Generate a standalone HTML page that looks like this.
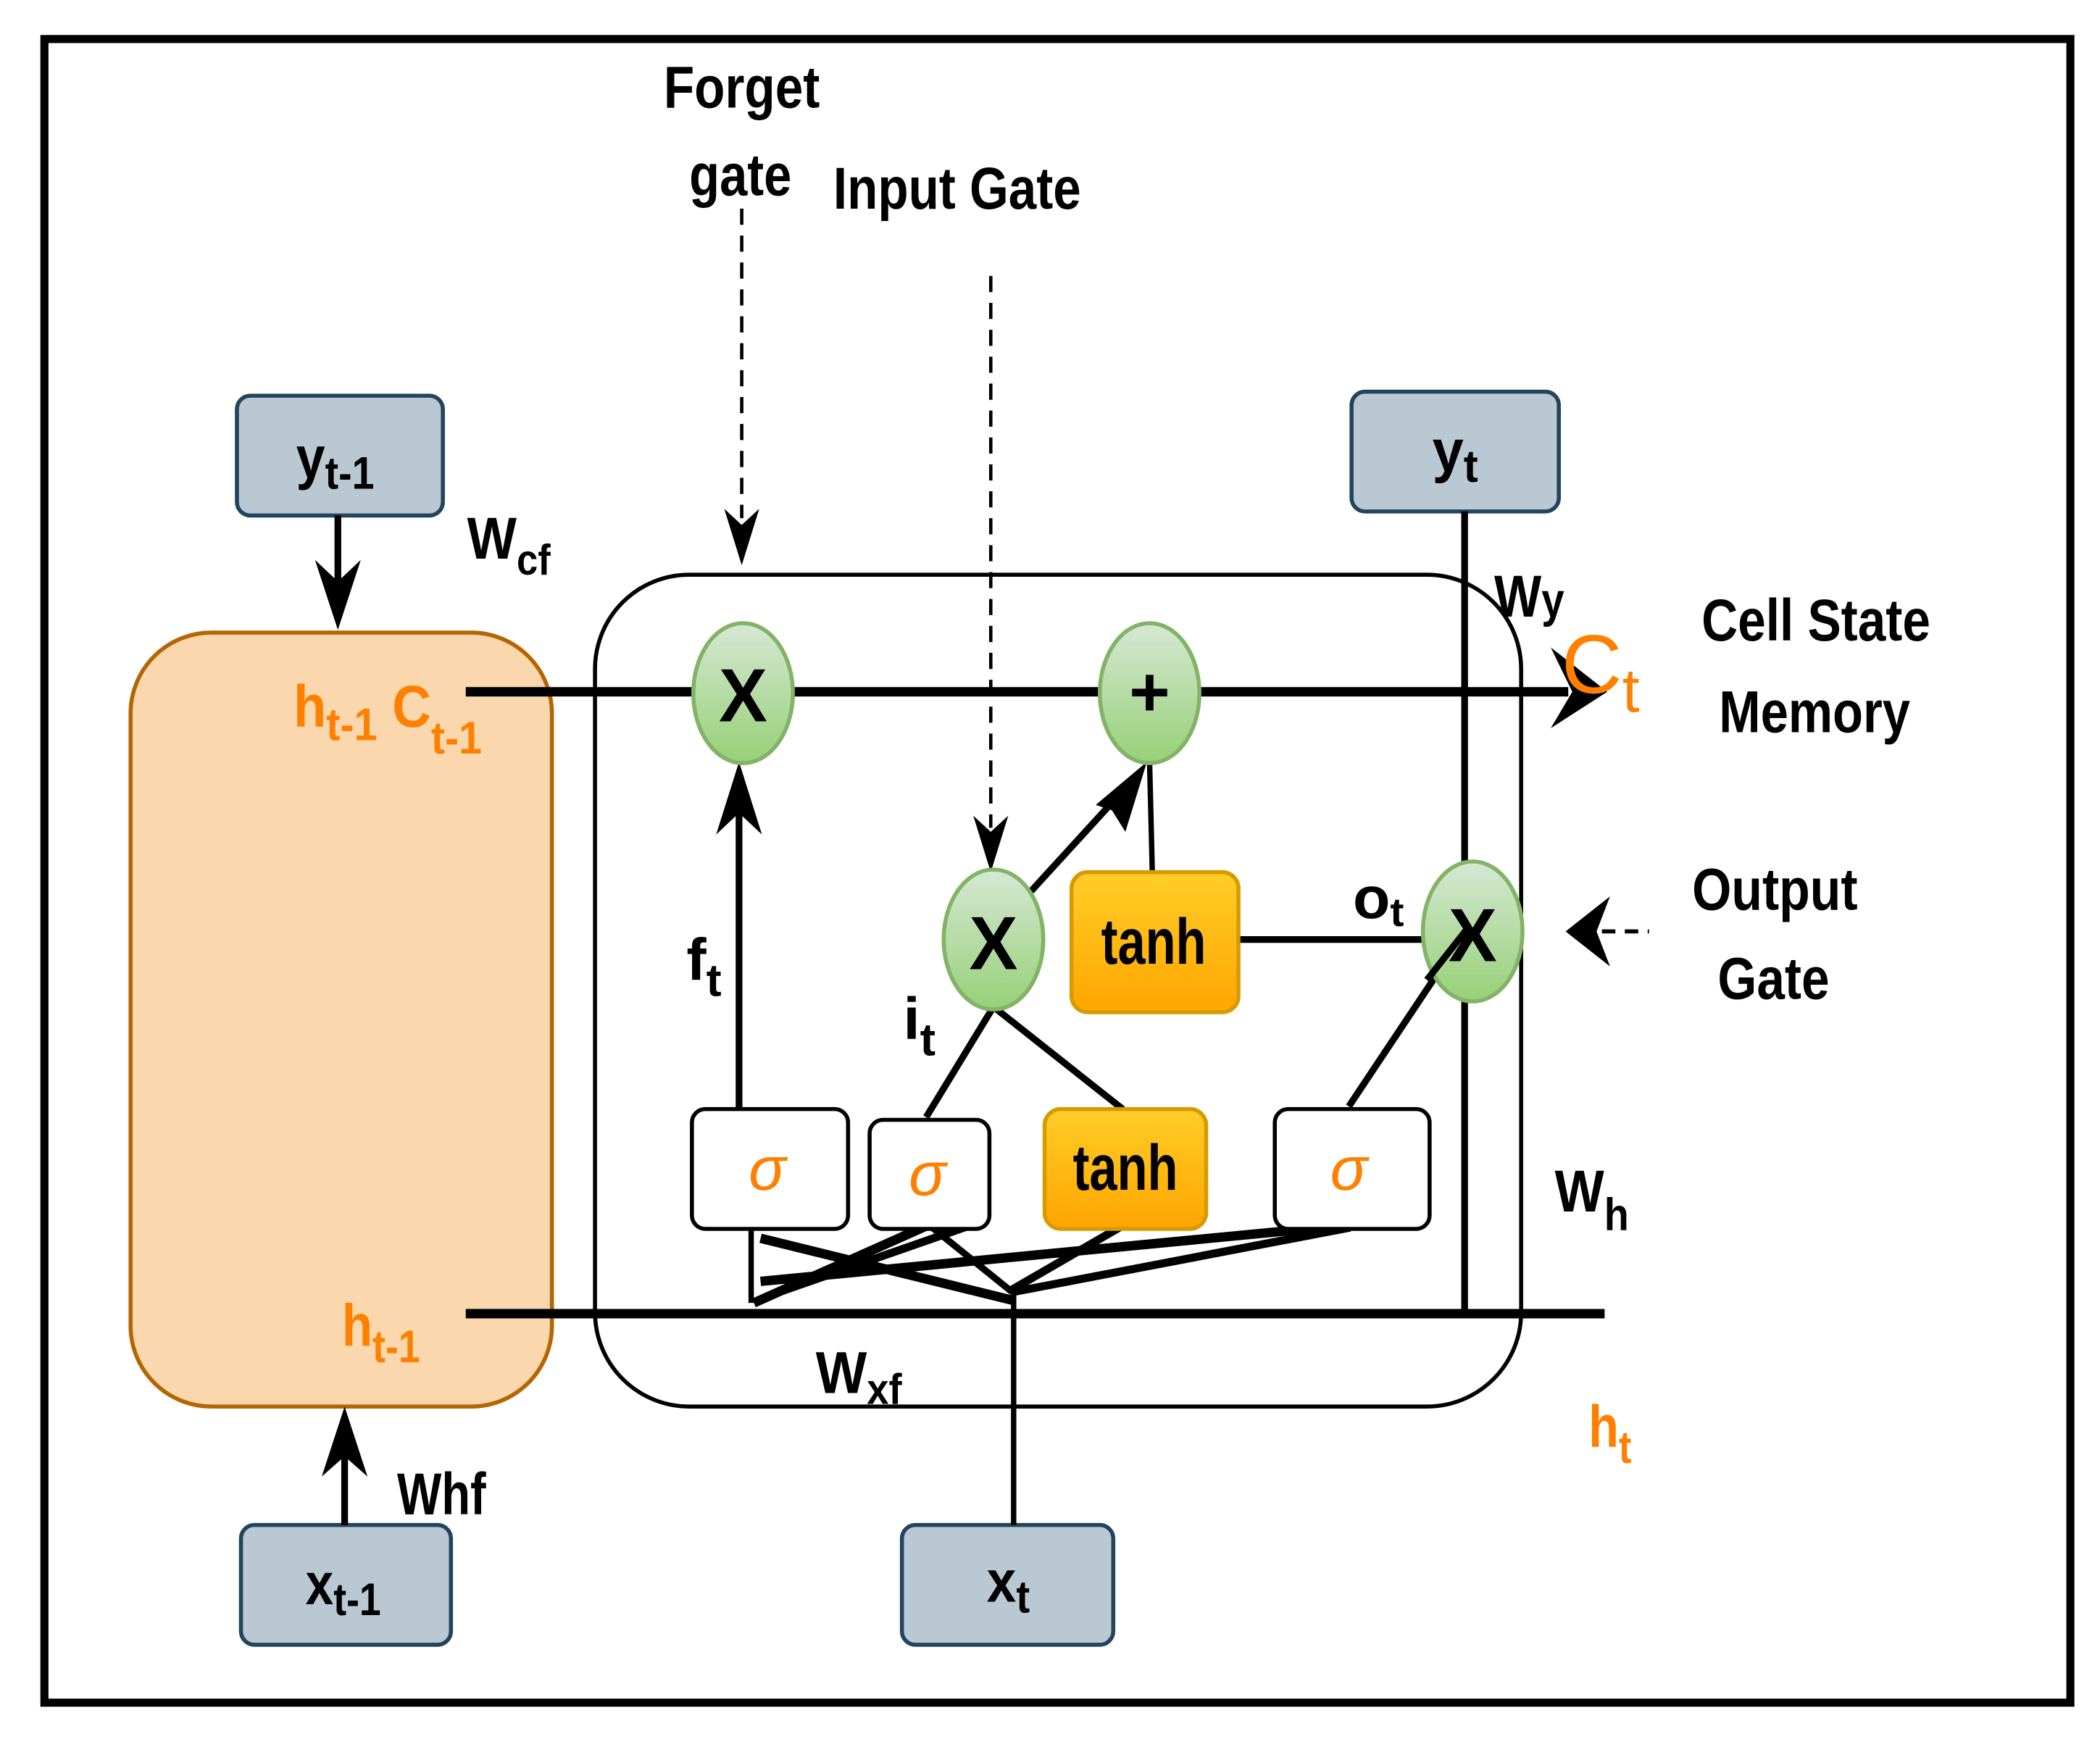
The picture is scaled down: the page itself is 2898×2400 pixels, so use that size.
<!DOCTYPE html>
<html><head><meta charset="utf-8"><style>
html,body{margin:0;padding:0;background:#fff}
svg{display:block}
text{font-family:"Liberation Sans Narrow","Liberation Sans",sans-serif;font-weight:bold}
</style></head><body>
<svg width="2898" height="2400" viewBox="0 0 1560 1292" preserveAspectRatio="none" xmlns="http://www.w3.org/2000/svg">
<defs>
<linearGradient id="g" x1="0" y1="0" x2="0" y2="1"><stop offset="0" stop-color="#d5e8d4"/><stop offset="1" stop-color="#97d077"/></linearGradient>
<linearGradient id="o" x1="0" y1="0" x2="0" y2="1"><stop offset="0" stop-color="#ffcd28"/><stop offset="1" stop-color="#ffa500"/></linearGradient>
</defs>
<rect x="0" y="0" width="1560" height="1292" fill="#fff"/>
<rect x="33" y="29" width="1505" height="1236" fill="none" stroke="#000" stroke-width="6"/>

<rect x="97" y="470" width="313" height="575" rx="60" fill="#fad7ac" stroke="#b46504" stroke-width="3"/>
<rect x="442" y="427" width="688" height="618" rx="70" fill="none" stroke="#000" stroke-width="3"/>

<g fill="#bac8d3" stroke="#23445d" stroke-width="3">
<rect x="176" y="294" width="153" height="89" rx="10"/>
<rect x="179" y="1133" width="156" height="89" rx="10"/>
<rect x="670" y="1133" width="157" height="89" rx="10"/>
<rect x="1004" y="291" width="154" height="89" rx="10"/>
</g>

<g stroke="#000" fill="none">
<line x1="346" y1="514" x2="1165" y2="514" stroke-width="7"/>
<line x1="346" y1="976" x2="1192" y2="976" stroke-width="7"/>
<line x1="1088" y1="380" x2="1088" y2="976" stroke-width="5"/>
<line x1="251" y1="383" x2="251" y2="440" stroke-width="5"/>
<line x1="256" y1="1133" x2="256" y2="1075" stroke-width="5"/>
<line x1="549" y1="824" x2="549" y2="600" stroke-width="5"/>
<line x1="688" y1="830" x2="738" y2="748" stroke-width="5"/>
<line x1="738" y1="748" x2="834" y2="824" stroke-width="5"/>
<line x1="766" y1="662" x2="830" y2="592" stroke-width="5"/>
<line x1="856" y1="648" x2="854" y2="567" stroke-width="4"/>
<line x1="910" y1="698" x2="1060" y2="698" stroke-width="5"/>
<line x1="1002" y1="822" x2="1090" y2="690" stroke-width="5"/>
<line x1="753" y1="1133" x2="753" y2="958" stroke-width="4"/>
<line x1="558" y1="913" x2="558" y2="968" stroke-width="4"/>
<line x1="565" y1="920" x2="752" y2="966" stroke-width="7"/>
<line x1="565" y1="952" x2="1003" y2="910" stroke-width="7"/>
<line x1="560" y1="968" x2="690" y2="910" stroke-width="7"/>
<line x1="570" y1="963" x2="722" y2="910" stroke-width="6"/>
<line x1="690" y1="910" x2="752" y2="960" stroke-width="5"/>
<line x1="752" y1="958" x2="835" y2="910" stroke-width="6"/>
<line x1="752" y1="960" x2="1003" y2="912" stroke-width="6"/>
<line x1="551" y1="155" x2="551" y2="385" stroke-width="2.5" stroke-dasharray="12,8"/>
<line x1="736" y1="205" x2="736" y2="615" stroke-width="2.5" stroke-dasharray="12,8"/>
<line x1="1190" y1="692" x2="1225" y2="692" stroke-width="3" stroke-dasharray="10,7"/>
</g>
<g fill="#000">
<polygon points="251,468 234,416 251,432 268,416"/>
<polygon points="256,1045 239,1097 256,1082 273,1097"/>
<polygon points="549,566 532,620 549,604 566,620"/>
<polygon points="852,566 814,598 826,602 836,618"/>
<polygon points="551,420 538,378 551,390 564,378"/>
<polygon points="736,648 723,606 736,618 749,606"/>
<polygon points="1163,692 1196,666 1186,692 1196,718"/>
<polygon points="1194,514 1152,481 1168,514 1152,541"/>
</g>

<g fill="url(#g)" stroke="#82b366" stroke-width="3">
<ellipse cx="552" cy="515" rx="37" ry="52"/>
<ellipse cx="854" cy="515" rx="37" ry="52"/>
<ellipse cx="738" cy="698" rx="37" ry="52"/>
<ellipse cx="1094" cy="692" rx="37" ry="52"/>
</g>
<line x1="1090" y1="690" x2="1060" y2="728" stroke="#000" stroke-width="5"/>

<g fill="url(#o)" stroke="#d79b00" stroke-width="3">
<rect x="796" y="648" width="124" height="104" rx="12"/>
<rect x="776" y="824" width="120" height="89" rx="12"/>
</g>
<g fill="#fff" stroke="#000" stroke-width="3">
<rect x="514" y="824" width="116" height="89" rx="10"/>
<rect x="646" y="832" width="89" height="81" rx="10"/>
<rect x="947" y="824" width="115" height="89" rx="10"/>
</g>

<g font-size="56" text-anchor="middle" fill="#000">
<text x="552" y="536" textLength="36" lengthAdjust="spacingAndGlyphs">X</text>
<text x="738" y="720" textLength="36" lengthAdjust="spacingAndGlyphs">X</text>
<text x="1094" y="714" textLength="36" lengthAdjust="spacingAndGlyphs">X</text>
<text x="854" y="532" font-size="52">+</text>
<text x="857" y="716" font-size="48" textLength="78" lengthAdjust="spacingAndGlyphs">tanh</text>
<text x="836" y="884" font-size="48" textLength="78" lengthAdjust="spacingAndGlyphs">tanh</text>
</g>
<g font-size="46" fill="#ff8000" text-anchor="middle">
<text x="570" y="884" style="font-weight:normal;font-style:italic;font-family:'Liberation Sans',sans-serif">σ</text>
<text x="689" y="888" style="font-weight:normal;font-style:italic;font-family:'Liberation Sans',sans-serif">σ</text>
<text x="1002" y="884" style="font-weight:normal;font-style:italic;font-family:'Liberation Sans',sans-serif">σ</text>
</g>

<g font-size="44" fill="#000">
<text x="493" y="80" textLength="116" lengthAdjust="spacingAndGlyphs">Forget</text>
<text x="512" y="145" textLength="76" lengthAdjust="spacingAndGlyphs">gate</text>
<text x="619" y="155" textLength="184" lengthAdjust="spacingAndGlyphs">Input Gate</text>
<text x="1264" y="476" textLength="170" lengthAdjust="spacingAndGlyphs">Cell State</text>
<text x="1277" y="544" textLength="142" lengthAdjust="spacingAndGlyphs">Memory</text>
<text x="1257" y="676" textLength="123" lengthAdjust="spacingAndGlyphs">Output</text>
<text x="1276" y="742" textLength="83" lengthAdjust="spacingAndGlyphs">Gate</text>

<text x="220" y="355" textLength="58" lengthAdjust="spacingAndGlyphs">y<tspan font-size="34" dy="8">t-1</tspan></text>
<text x="227" y="1192" textLength="56" lengthAdjust="spacingAndGlyphs">x<tspan font-size="34" dy="8">t-1</tspan></text>
<text x="733" y="1190" textLength="32" lengthAdjust="spacingAndGlyphs">x<tspan font-size="34" dy="8">t</tspan></text>
<text x="1064" y="350" textLength="34" lengthAdjust="spacingAndGlyphs">y<tspan font-size="34" dy="8">t</tspan></text>

<text x="347" y="415" textLength="62" lengthAdjust="spacingAndGlyphs">W<tspan font-size="32" dy="12">cf</tspan></text>
<text x="295" y="1125" textLength="66" lengthAdjust="spacingAndGlyphs">Whf</text>
<text x="1110" y="458" textLength="52" lengthAdjust="spacingAndGlyphs">W<tspan font-size="36" dy="0">y</tspan></text>
<text x="1155" y="900" textLength="55" lengthAdjust="spacingAndGlyphs">W<tspan font-size="34" dy="14">h</tspan></text>
<text x="606" y="1035" textLength="64" lengthAdjust="spacingAndGlyphs">W<tspan font-size="32" dy="8">xf</tspan></text>
<text x="510" y="728" textLength="26" lengthAdjust="spacingAndGlyphs">f<tspan font-size="34" dy="12">t</tspan></text>
<text x="671" y="772" textLength="24" lengthAdjust="spacingAndGlyphs">i<tspan font-size="34" dy="12">t</tspan></text>
<text x="1005" y="682" textLength="38" lengthAdjust="spacingAndGlyphs">o<tspan font-size="30" dy="6">t</tspan></text>
</g>
<g font-size="44" fill="#ff8000">
<text x="218" y="540" textLength="140" lengthAdjust="spacingAndGlyphs">h<tspan font-size="34" dy="10">t-1</tspan><tspan dy="-10"> C</tspan><tspan font-size="34" dy="20">t-1</tspan></text>
<text x="254" y="1000" textLength="58" lengthAdjust="spacingAndGlyphs">h<tspan font-size="34" dy="12">t-1</tspan></text>
<text x="1180" y="1075" textLength="32" lengthAdjust="spacingAndGlyphs">h<tspan font-size="34" dy="12">t</tspan></text>
<text x="1160" y="515" font-size="62" style="font-weight:normal" textLength="58" lengthAdjust="spacingAndGlyphs">C<tspan font-size="46" dy="14">t</tspan></text>
</g>
</svg>
</body></html>
